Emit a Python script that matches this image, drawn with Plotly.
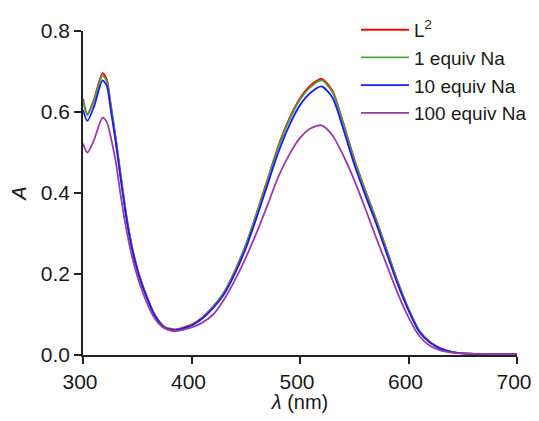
import plotly.graph_objects as go

wavelength = [300, 304, 310, 318, 322, 325, 330, 335, 340, 345, 350, 355, 360, 365, 370, 375,
              380, 385, 390, 400, 410, 420, 430, 440, 450, 460, 470, 480, 490, 500, 510, 520,
              530, 540, 550, 560, 570, 580, 590, 600, 610, 620, 630, 640, 650, 660, 680, 700]

a_L2 = [0.633, 0.595, 0.630, 0.696, 0.680, 0.630, 0.540, 0.440, 0.345, 0.270, 0.215, 0.172, 0.137, 0.105, 0.084, 0.070,
        0.065, 0.063, 0.066, 0.075, 0.093, 0.120, 0.155, 0.208, 0.272, 0.350, 0.433, 0.516, 0.583, 0.634, 0.666, 0.682,
        0.652, 0.572, 0.484, 0.408, 0.336, 0.259, 0.182, 0.114, 0.060, 0.032, 0.016, 0.008, 0.004, 0.003, 0.002, 0.002]

a_1eq = [0.628, 0.592, 0.626, 0.690, 0.675, 0.626, 0.537, 0.438, 0.343, 0.268, 0.213, 0.170, 0.136, 0.104, 0.083, 0.069,
         0.064, 0.062, 0.065, 0.074, 0.092, 0.119, 0.154, 0.206, 0.270, 0.348, 0.430, 0.512, 0.579, 0.630, 0.662, 0.678,
         0.648, 0.569, 0.481, 0.405, 0.334, 0.257, 0.180, 0.113, 0.059, 0.031, 0.016, 0.008, 0.004, 0.003, 0.002, 0.002]

a_10eq = [0.605, 0.578, 0.612, 0.678, 0.664, 0.616, 0.528, 0.430, 0.337, 0.264, 0.210, 0.168, 0.134, 0.103, 0.082, 0.068,
          0.063, 0.061, 0.064, 0.073, 0.090, 0.116, 0.150, 0.201, 0.263, 0.339, 0.420, 0.500, 0.566, 0.617, 0.648, 0.663,
          0.635, 0.557, 0.471, 0.396, 0.326, 0.250, 0.175, 0.110, 0.057, 0.030, 0.015, 0.007, 0.004, 0.003, 0.002, 0.002]

a_100eq = [0.522, 0.500, 0.530, 0.586, 0.575, 0.545, 0.480, 0.390, 0.310, 0.245, 0.195, 0.155, 0.122, 0.095, 0.077, 0.066,
           0.061, 0.059, 0.061, 0.068, 0.080, 0.100, 0.137, 0.185, 0.240, 0.302, 0.370, 0.440, 0.494, 0.536, 0.560, 0.567,
           0.542, 0.492, 0.432, 0.363, 0.291, 0.222, 0.153, 0.093, 0.047, 0.022, 0.011, 0.006, 0.004, 0.003, 0.002, 0.002]

series_names = ["L<sup>2</sup>", "1 equiv Na", "10 equiv Na", "100 equiv Na"]
series_values = [a_L2, a_1eq, a_10eq, a_100eq]
series_colors = ["#ff0000", "#45a845", "#1a1aff", "#9b3aa8"]

x_ticks = [300, 400, 500, 600, 700]
y_ticks = [0.0, 0.2, 0.4, 0.6, 0.8]

FONT = "Liberation Sans, Arial, sans-serif"

fig = go.Figure()
for name, vals, col in zip(series_names, series_values, series_colors):
    fig.add_trace(go.Scatter(x=wavelength, y=vals, mode="lines", name=name,
                             line=dict(color=col, width=1.8, shape="spline", smoothing=0.7)))

fig.update_layout(
    width=531, height=405,
    margin=dict(l=75, r=22, t=23, b=58, autoexpand=False),
    paper_bgcolor="white", plot_bgcolor="white",
    font=dict(family=FONT, color="#1a1a1a", size=20),
    showlegend=True,
    legend=dict(x=0.629, y=1.062, xanchor="left", yanchor="top",
                bgcolor="rgba(0,0,0,0)", font=dict(size=19, family=FONT, color="#1a1a1a"),
                tracegroupgap=0, itemwidth=48),
)
fig.update_xaxes(range=[300, 700], tickvals=x_ticks, ticktext=[str(v) for v in x_ticks],
                 showline=True, linecolor="#222", linewidth=1.5, ticks="outside", ticklen=7,
                 tickwidth=1.5, tickcolor="#222", showgrid=False, zeroline=False,
                 tickfont=dict(size=21, family=FONT), ticklabeloverflow="allow", ticklabelshift=-3,
                 title=dict(text="<i>λ</i> (nm)", font=dict(size=20, family=FONT), standoff=3))
fig.update_yaxes(range=[0, 0.8], tickvals=y_ticks, ticktext=[f"{v:.1f}" for v in y_ticks],
                 showline=True, linecolor="#222", linewidth=1.5, ticks="outside", ticklen=7,
                 tickwidth=1.5, tickcolor="#222", showgrid=False, zeroline=False,
                 tickfont=dict(size=21, family=FONT),
                 title=dict(text="<i>A</i>", font=dict(size=20, family=FONT), standoff=14))

fig.write_html("out.html")
